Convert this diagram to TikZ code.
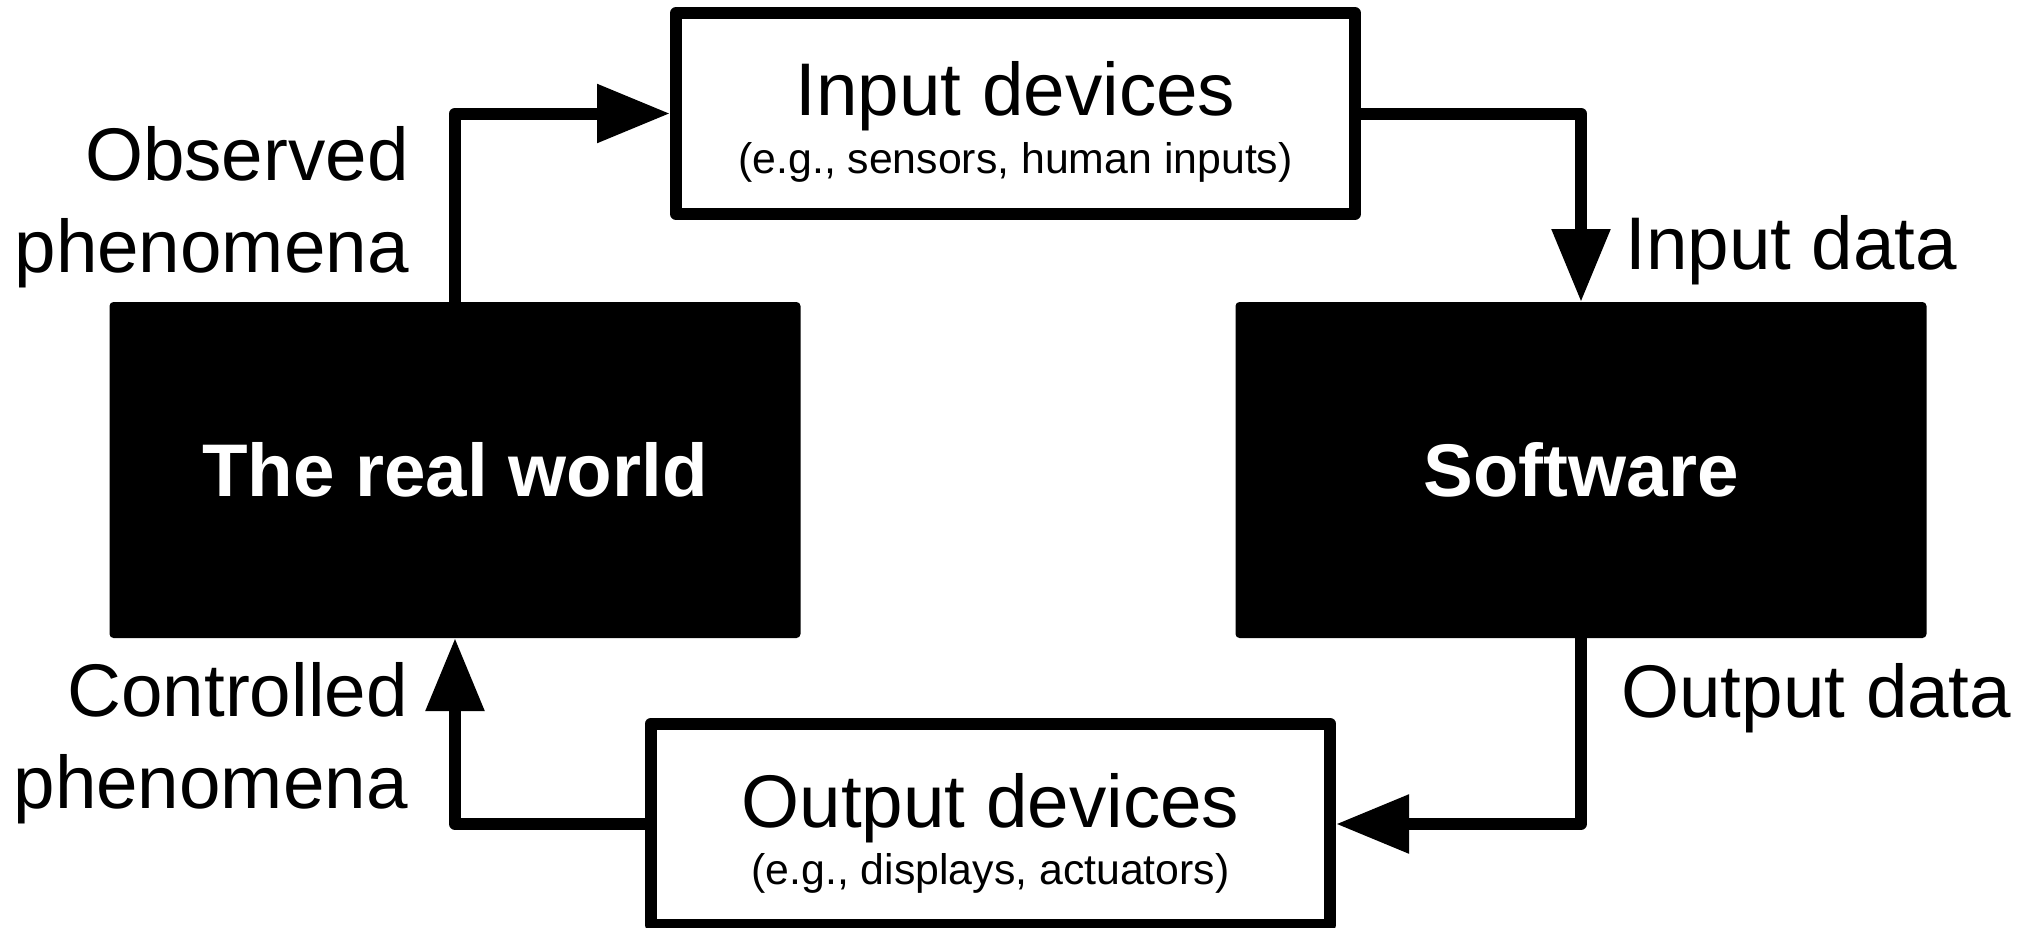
\documentclass[tikz,border=0pt]{standalone}
\usepackage{fontspec}
\setmainfont{Liberation Sans}
\usepackage{tikz}
\usetikzlibrary{arrows.meta}

\tikzset{
    devbox/.style={draw, line width=6pt, line join=round, inner sep=0pt, minimum width=339.5pt, minimum height=100.5pt},
    blockbox/.style={fill=black, rounded corners=2pt, outer sep=0pt, inner sep=0pt, minimum width=345.5pt, minimum height=168pt, text=white, font=\fontsize{37.3}{44}\selectfont\bfseries},
    flow/.style={line width=6pt, line join=round, -{Triangle[length=36.5pt, width=28pt]}},
    bigtxt/.style={font=\fontsize{37.3}{46}\selectfont},
    smalltxt/.style={font=\fontsize{21.4}{26}\selectfont}
}

\begin{document}
\begin{tikzpicture}[x=0.5pt,y=0.5pt,yscale=-1]
    \useasboundingbox (0,0) rectangle (2020,927);

    %Shape: Rectangle [input devices]
    \node [devbox] (indev) at (1015.5,113.5) {};
    %Shape: Rectangle [output devices]
    \node [devbox] (outdev) at (990.5,824) {};

    %Shape: Rectangle [real world]
    \node [blockbox] (world) at (455,470) {The real world};
    %Shape: Rectangle [software]
    \node [blockbox] (soft) at (1581,470) {Software};

    %Straight Lines
    \draw [flow] (world.north) |- (indev.west);
    \draw [flow] (indev.east) -| (soft.north);
    \draw [flow] (soft.south) |- (outdev.east);
    \draw [flow] (outdev.west) -| (world.south);

    % Text Node
    \node [bigtxt, anchor=base] (indevtxt) at ([yshift=1pt]indev.center) {Input devices};
    % Text Node
    \node [smalltxt, anchor=base] (indevsub) at ([yshift=30pt]indev.center) {(e.g., sensors, human inputs)};
    % Text Node
    \node [bigtxt, anchor=base] (outdevtxt) at ([yshift=1.5pt]outdev.center) {Output devices};
    % Text Node
    \node [smalltxt, anchor=base] (outdevsub) at ([yshift=30pt]outdev.center) {(e.g., displays, actuators)};
    % Text Node
    \node [bigtxt, anchor=base east, align=right, inner sep=0pt] (observed) at (409,272) {Observed\\phenomena};
    % Text Node
    \node [bigtxt, anchor=base east, align=right, inner sep=0pt] (controlled) at (408,808) {Controlled\\phenomena};
    % Text Node
    \node [bigtxt, anchor=base west, inner sep=0pt] (indata) at (1625,269) {Input data};
    % Text Node
    \node [bigtxt, anchor=base west, inner sep=0pt] (outdata) at (1621,717) {Output data};

\end{tikzpicture}
\end{document}
